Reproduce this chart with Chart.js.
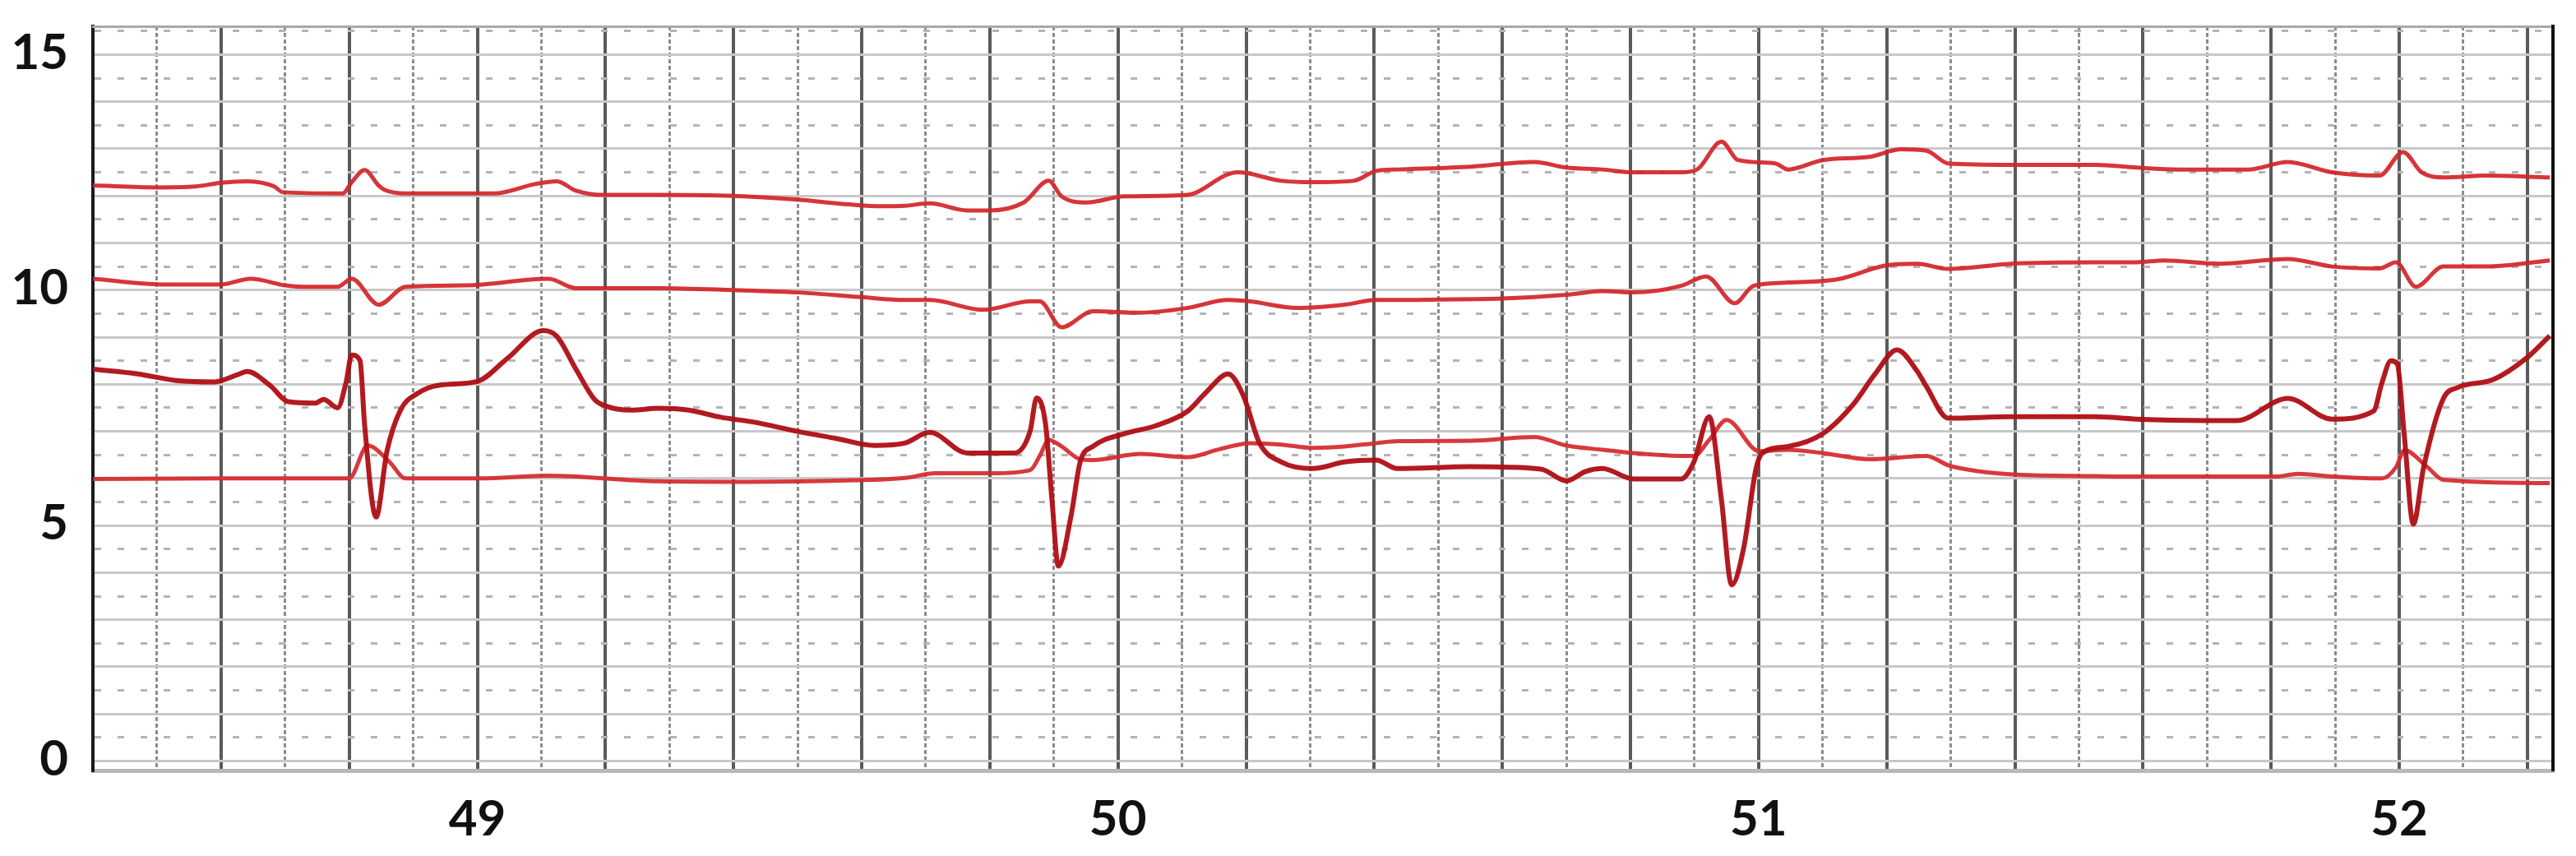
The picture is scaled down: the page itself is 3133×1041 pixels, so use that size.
<!DOCTYPE html>
<html>
<head>
<meta charset="utf-8">
<script src="https://cdn.jsdelivr.net/npm/chart.js@4.4.1/dist/chart.umd.min.js"></script>
<style>
  html, body { margin: 0; padding: 0; background: #fff; }
  #wrap { width: 3133px; height: 1041px; position: relative; }
</style>
</head>
<body>
<div id="wrap"><canvas id="ecg"></canvas></div>
<script>
const lead1 = [[48.40,12.22],[48.50,12.18],[48.56,12.2],[48.60,12.28],[48.641,12.31],[48.683,12.2],[48.696,12.08],[48.79,12.05],[48.804,12.29],[48.824,12.55],[48.846,12.22],[48.855,12.13],[48.888,12.05],[49.026,12.05],[49.09,12.25],[49.124,12.31],[49.154,12.11],[49.196,12.02],[49.282,12.02],[49.40,12.0],[49.50,11.92],[49.58,11.82],[49.63,11.78],[49.667,11.79],[49.706,11.84],[49.765,11.69],[49.799,11.69],[49.853,11.86],[49.892,12.32],[49.912,11.99],[49.951,11.86],[50.01,11.99],[50.108,12.02],[50.172,12.46],[50.187,12.5],[50.255,12.32],[50.304,12.29],[50.368,12.32],[50.403,12.53],[50.436,12.56],[50.55,12.62],[50.65,12.72],[50.70,12.6],[50.756,12.56],[50.805,12.5],[50.879,12.5],[50.904,12.56],[50.942,13.15],[50.968,12.76],[51.026,12.69],[51.046,12.56],[51.10,12.76],[51.173,12.83],[51.223,12.99],[51.262,12.96],[51.296,12.69],[51.394,12.66],[51.526,12.66],[51.59,12.6],[51.655,12.56],[51.764,12.56],[51.826,12.72],[51.895,12.5],[51.969,12.43],[52.006,12.93],[52.035,12.5],[52.069,12.39],[52.135,12.43],[52.235,12.39]];

const lead2 = [[48.40,10.24],[48.508,10.12],[48.60,10.12],[48.646,10.24],[48.70,10.1],[48.727,10.07],[48.782,10.07],[48.804,10.24],[48.846,9.69],[48.888,10.07],[48.983,10.1],[49.111,10.24],[49.154,10.04],[49.282,10.04],[49.40,10.0],[49.50,9.95],[49.60,9.85],[49.667,9.79],[49.706,9.79],[49.79,9.58],[49.863,9.76],[49.878,9.76],[49.912,9.21],[49.961,9.55],[50.035,9.52],[50.108,9.62],[50.172,9.79],[50.206,9.76],[50.28,9.62],[50.354,9.69],[50.403,9.79],[50.436,9.79],[50.5,9.8],[50.6,9.82],[50.7,9.9],[50.756,9.98],[50.805,9.95],[50.879,10.09],[50.918,10.29],[50.963,9.72],[50.992,10.09],[51.046,10.16],[51.124,10.23],[51.197,10.52],[51.247,10.56],[51.296,10.45],[51.394,10.56],[51.526,10.59],[51.59,10.59],[51.633,10.63],[51.72,10.56],[51.826,10.66],[51.895,10.5],[51.969,10.46],[51.995,10.59],[52.026,10.07],[52.069,10.5],[52.135,10.5],[52.235,10.63]];

const lead3 = [[48.40,8.32],[48.47,8.22],[48.53,8.08],[48.59,8.05],[48.625,8.2],[48.641,8.27],[48.676,7.98],[48.705,7.63],[48.747,7.6],[48.76,7.68],[48.782,7.5],[48.795,8.03],[48.804,8.62],[48.817,8.5],[48.824,7.16],[48.842,5.18],[48.859,6.58],[48.88,7.45],[48.906,7.8],[48.94,7.98],[49.0,8.06],[49.047,8.55],[49.103,9.14],[49.124,9.02],[49.154,8.32],[49.183,7.68],[49.2,7.54],[49.24,7.45],[49.282,7.49],[49.33,7.45],[49.38,7.3],[49.43,7.2],[49.5,7.0],[49.56,6.85],[49.62,6.7],[49.667,6.75],[49.706,6.98],[49.765,6.54],[49.838,6.54],[49.863,7.01],[49.873,7.71],[49.887,7.15],[49.897,5.55],[49.907,4.14],[49.927,5.22],[49.941,6.35],[49.961,6.68],[50.01,6.95],[50.059,7.12],[50.108,7.42],[50.137,7.82],[50.172,8.22],[50.196,7.75],[50.221,6.75],[50.255,6.35],[50.304,6.21],[50.354,6.35],[50.403,6.39],[50.436,6.21],[50.55,6.25],[50.66,6.2],[50.70,5.95],[50.73,6.15],[50.756,6.21],[50.805,5.99],[50.879,5.99],[50.899,6.35],[50.923,7.31],[50.942,5.55],[50.958,3.74],[50.977,4.54],[50.996,6.21],[51.006,6.54],[51.046,6.68],[51.10,6.95],[51.147,7.56],[51.182,8.22],[51.216,8.73],[51.247,8.29],[51.262,7.95],[51.296,7.28],[51.394,7.31],[51.526,7.31],[51.59,7.26],[51.699,7.23],[51.746,7.23],[51.826,7.7],[51.895,7.26],[51.96,7.43],[51.973,8.03],[51.987,8.5],[51.997,8.43],[52.008,6.9],[52.022,5.03],[52.038,6.23],[52.069,7.7],[52.091,7.93],[52.147,8.1],[52.2,8.57],[52.235,9.03]];

const lead4 = [[48.40,5.99],[48.60,6.0],[48.769,6.0],[48.80,6.0],[48.829,6.7],[48.863,6.35],[48.888,6.0],[49.0,6.0],[49.11,6.06],[49.282,5.94],[49.4,5.93],[49.55,5.95],[49.667,6.01],[49.715,6.11],[49.804,6.11],[49.863,6.18],[49.878,6.48],[49.892,6.82],[49.912,6.68],[49.941,6.41],[49.961,6.39],[50.035,6.52],[50.108,6.45],[50.158,6.62],[50.206,6.75],[50.255,6.72],[50.304,6.65],[50.354,6.68],[50.403,6.75],[50.436,6.79],[50.55,6.8],[50.65,6.88],[50.70,6.7],[50.756,6.61],[50.805,6.54],[50.879,6.48],[50.899,6.48],[50.923,6.82],[50.95,7.24],[51.001,6.58],[51.046,6.61],[51.10,6.54],[51.173,6.41],[51.262,6.48],[51.296,6.28],[51.345,6.15],[51.404,6.08],[51.526,6.05],[51.59,6.04],[51.808,6.04],[51.842,6.1],[51.895,6.04],[51.973,6.0],[51.995,6.24],[52.008,6.6],[52.044,6.24],[52.069,5.97],[52.235,5.9]];

const xTickLabels = [49, 50, 51, 52];
const yTickLabels = [0, 5, 10, 15];

const isLabel = (v, list) => list.some(n => Math.abs(v - n) < 1e-6);
// every 0.2 s a dark line, the 0.1 s in between dashed
const isMajorX = v => Math.round(v * 10) % 2 === 0;
const isWholeY = v => Math.abs(v - Math.round(v)) < 1e-6;

const toPoints = arr => arr.map(p => ({x: p[0], y: p[1]}));

const ctx = document.getElementById('ecg').getContext('2d');
const ecgChart = new Chart(ctx, {
    type: 'line',
    data: {
        datasets: [
            {label: 'lead 1', data: toPoints(lead1), borderColor: 'rgba(210, 36, 40, 0.92)', borderWidth: 5},
            {label: 'lead 2', data: toPoints(lead2), borderColor: 'rgba(210, 36, 40, 0.92)', borderWidth: 5},
            {label: 'lead 3', data: toPoints(lead3), borderColor: 'rgba(175, 14, 20, 0.95)', borderWidth: 6},
            {label: 'lead 4', data: toPoints(lead4), borderColor: 'rgba(212, 40, 44, 0.92)', borderWidth: 5}
        ]
    },
    options: {
        responsive: true,
        maintainAspectRatio: false,
        animation: false,
        devicePixelRatio: 1,
        layout: {padding: {left: 0, right: 28, top: 32, bottom: 0}},
        elements: {
            point: {radius: 0},
            line: {cubicInterpolationMode: 'monotone', fill: false}
        },
        plugins: {
            legend: {display: false},
            tooltip: {enabled: false}
        },
        scales: {
            x: {
                type: 'linear',
                min: 48.4,
                max: 52.24,
                afterFit: s => { s.height = 104; },
                ticks: {
                    stepSize: 0.1,
                    maxTicksLimit: 100,
                    includeBounds: false,
                    autoSkip: false,
                    maxRotation: 0,
                    padding: 24,
                    color: '#111',
                    font: {family: 'Lato', weight: 'bold', size: 60, lineHeight: 1.2},
                    callback: v => isLabel(v, xTickLabels) ? String(Math.round(v)) : ''
                },
                grid: {
                    drawTicks: false,
                    color: c => (c.tick && isMajorX(c.tick.value)) ? '#5a5a5a' : '#8c8c8c',
                    lineWidth: c => (c.tick && isMajorX(c.tick.value)) ? 4 : 3,
                    borderDash: c => (c.tick && !isMajorX(c.tick.value)) ? [5, 3] : []
                },
                border: {
                    display: true,
                    color: '#b8b8b8',
                    width: 5,
                    dash: c => (c.tick && !isMajorX(c.tick.value)) ? [5, 3] : []
                }
            },
            y: {
                type: 'linear',
                min: -0.2,
                max: 15.6,
                // keep the label half-heights from pushing the plot down
                afterFit: s => { s.width = 113; s.paddingTop = 0; s.paddingBottom = 0; },
                ticks: {
                    stepSize: 0.5,
                    maxTicksLimit: 100,
                    includeBounds: false,
                    autoSkip: false,
                    padding: 30,
                    labelOffset: -2,
                    color: '#111',
                    font: {family: 'Lato', weight: 'bold', size: 60, lineHeight: 1.07},
                    callback: v => isLabel(v, yTickLabels) ? String(Math.round(v)) : ''
                },
                grid: {
                    drawTicks: false,
                    color: c => (c.tick && isWholeY(c.tick.value)) ? '#c8c8c8' : '#b4b4b4',
                    lineWidth: 3,
                    borderDash: c => (c.tick && !isWholeY(c.tick.value)) ? [8, 20] : []
                },
                border: {
                    display: true,
                    color: '#1a1a1a',
                    width: 4,
                    dash: c => (c.tick && !isWholeY(c.tick.value)) ? [8, 20] : []
                }
            },
            xTop: {
                type: 'linear',
                position: 'top',
                min: 48.4,
                max: 52.24,
                ticks: {display: false},
                grid: {display: false, drawTicks: false},
                border: {display: true, color: '#a8a8a8', width: 3}
            },
            yRight: {
                type: 'linear',
                position: 'right',
                min: -0.2,
                max: 15.6,
                ticks: {display: false},
                grid: {display: false, drawTicks: false},
                border: {display: true, color: '#111111', width: 4}
            }
        }
    }
});
</script>
</body>
</html>
